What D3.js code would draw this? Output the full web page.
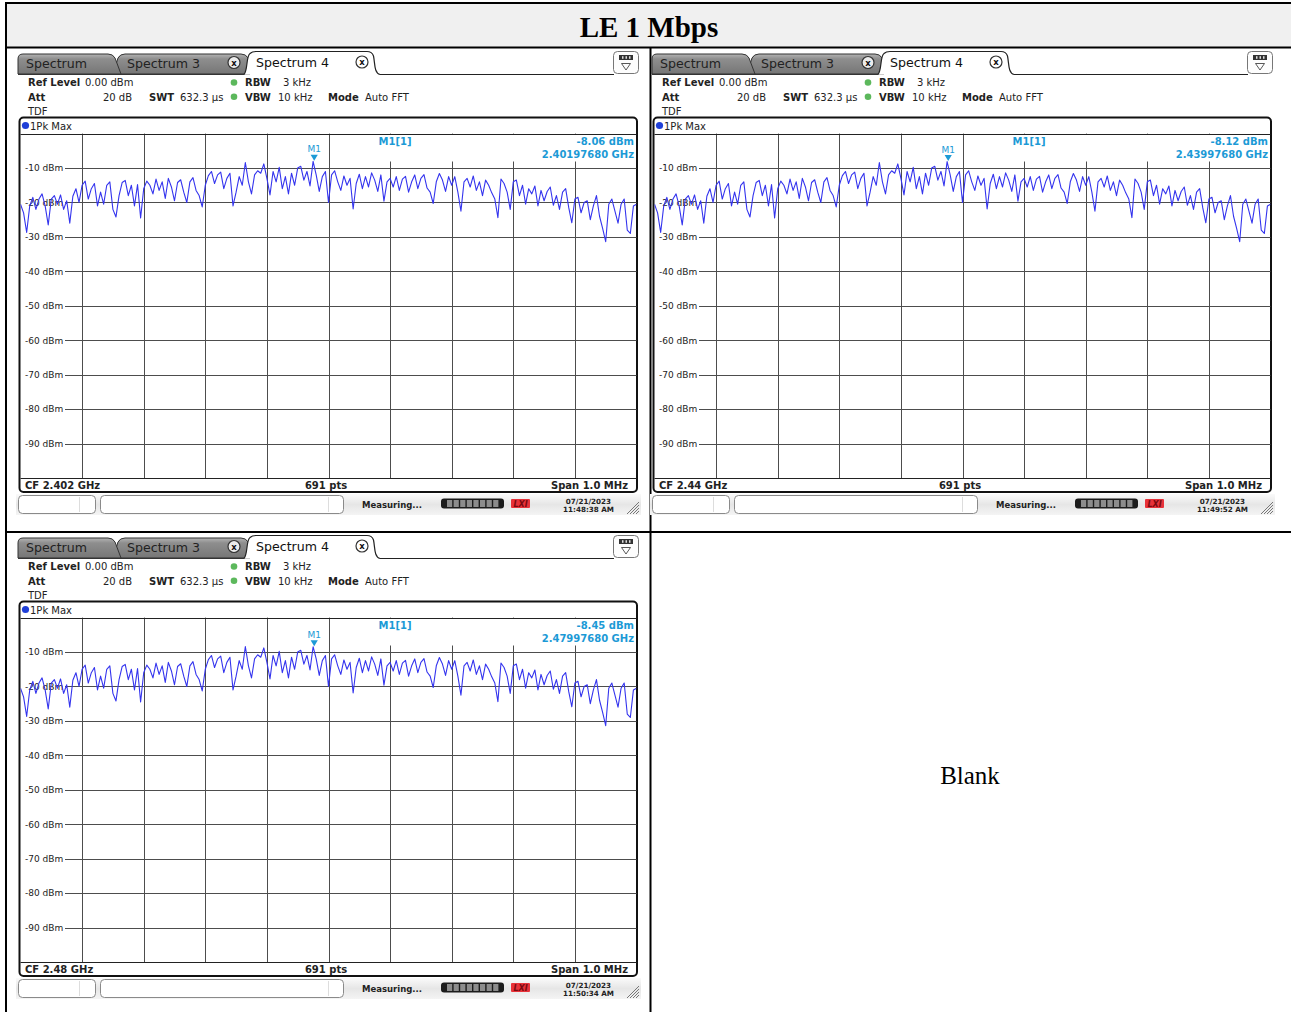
<!DOCTYPE html>
<html>
<head>
<meta charset="utf-8">
<script src="https://cdn.jsdelivr.net/npm/d3@7"></script>
<style>
  html, body { margin: 0; padding: 0; background: #fff; }
  svg { display: block; }
</style>
</head>
<body>
<svg id="chart" width="1291" height="1012"></svg>
<script>
// Per-screen measurement settings
const centerFreqGHz = [2.402, 2.44, 2.48];
const centerLabels = ["CF 2.402 GHz", "CF 2.44 GHz", "CF 2.48 GHz"];
const markerFreqGHz = [2.4019768, 2.4399768, 2.4799768];
const markerLevelDbm = [-8.06, -8.12, -8.45];
const markerFreqLabels = ["2.40197680 GHz", "2.43997680 GHz", "2.47997680 GHz"];
const stampDates = ["07/21/2023", "07/21/2023", "07/21/2023"];
const stampTimes = ["11:48:38 AM", "11:49:52 AM", "11:50:34 AM"];
const levelTicksDbm = [-10, -20, -30, -40, -50, -60, -70, -80, -90];
const tabNames = ["Spectrum", "Spectrum 3", "Spectrum 4"];
const refLevelDbm = 0;
const rangeDb = 100;
const spanMHz = 1.0;
const divisions = 10;

// 1Pk Max trace, evenly spaced across the span (dBm); highest sample is the M1 peak
const traceDbm = [
  -20.5, -23, -28.7, -21, -18.5, -22, -19, -17.5, -21, -26.5, -19, -18, -20.5, -17.8, -22, -19.5, -26, -18.2, -16, -20,
  -15, -13.8, -19, -16, -14.5, -21, -17, -20.5, -15, -14, -22, -24.2, -18, -14.2, -13.6, -18, -15, -21, -14.8, -24.5,
  -16, -13.8, -15, -17.5, -13.2, -16.5, -14, -18.8, -13, -15.5, -19.5, -14.2, -13.4, -17, -20, -14, -12.8, -16.5, -18, -21.3,
  -15, -12.2, -11, -14.5, -12, -11.2, -16, -13, -11.5, -21, -17, -12.5, -15, -8.4, -14, -17.5, -12, -10.8, -11.5, -8.8,
  -13, -17.8, -11, -14, -9.8, -16, -12.5, -17.5, -11.5, -15, -10, -9.5, -13.5, -11, -15.2, -8.06, -12, -16.8, -12.5, -11,
  -20, -12, -10.8, -14, -16.5, -12.3, -15, -13, -21.9, -14.5, -11.8, -16, -12.5, -15.5, -11.4, -13.5, -16.8, -12, -19.6, -14,
  -13, -15.5, -12.5, -16.5, -13.2, -12.4, -17, -14, -12, -16, -13, -11.9, -15.8, -17, -20.3, -14, -11.6, -13.5, -16.8, -12.5,
  -15, -12.5, -17, -22.5, -14, -13, -15.5, -12.3, -16.5, -14, -18, -13.5, -15, -17.2, -19, -24.4, -13.2, -14.5, -17, -22,
  -14, -13.5, -18, -15, -20.5, -16, -17.5, -15.2, -21, -16.5, -19.5, -16.8, -15.5, -20.8, -18, -22, -17, -16, -21.5, -25.9,
  -19, -18.5, -23, -20, -19.5, -25, -21, -18, -24, -27.5, -31.4, -20.5, -19, -22.5, -26, -20.5, -19, -28, -29, -21,
  -20.5
];

const UI_FONT = "'DejaVu Sans', Verdana, sans-serif";
const SERIF = "'Liberation Serif', 'Times New Roman', serif";
const TEXT = "#222";
const MARKER = "#1c9ad6";
const TRACE = "#3434ee";
const GRID = "#4d4d4d";

const svg = d3.select("#chart");
const defs = svg.append("defs");

const tabGrad = defs.append("linearGradient").attr("id", "tabGrad").attr("x1", 0).attr("y1", 0).attr("x2", 0).attr("y2", 1);
tabGrad.append("stop").attr("offset", 0).attr("stop-color", "#b4b4b4");
tabGrad.append("stop").attr("offset", 0.25).attr("stop-color", "#8e8e8e");
tabGrad.append("stop").attr("offset", 1).attr("stop-color", "#767676");

const barGrad = defs.append("linearGradient").attr("id", "barGrad").attr("x1", 0).attr("y1", 0).attr("x2", 0).attr("y2", 1);
barGrad.append("stop").attr("offset", 0).attr("stop-color", "#fafafa");
barGrad.append("stop").attr("offset", 0.5).attr("stop-color", "#e6e6e6");
barGrad.append("stop").attr("offset", 1).attr("stop-color", "#f4f4f4");

// ---- surrounding table ----
svg.append("rect").attr("x", 6).attr("y", 3).attr("width", 1291).attr("height", 44).attr("fill", "#f0f0f0");
svg.append("text")
  .attr("x", 649).attr("y", 37)
  .attr("text-anchor", "middle")
  .attr("font-family", SERIF).attr("font-weight", "bold").attr("font-size", 29)
  .attr("fill", "#000")
  .text("LE 1 Mbps");

const tableLines = [
  [5, 3, 1291, 3],
  [6, 3, 6, 1012],
  [5, 47.5, 1291, 47.5],
  [5, 532, 1291, 532],
  [650.5, 47, 650.5, 1012]
];
svg.append("g").selectAll("line").data(tableLines).join("line")
  .attr("x1", d => d[0]).attr("y1", d => d[1]).attr("x2", d => d[2]).attr("y2", d => d[3])
  .attr("stroke", "#000").attr("stroke-width", 2);

svg.append("text")
  .attr("x", 970).attr("y", 784)
  .attr("text-anchor", "middle")
  .attr("font-family", SERIF).attr("font-size", 25)
  .attr("fill", "#000")
  .text("Blank");

// ---- analyzer screens ----
const offsets = [[0, 0], [634, 0], [0, 484]];

function txt(g, x, y, s, opts = {}) {
  return g.append("text")
    .attr("x", x).attr("y", y)
    .attr("font-family", opts.family || UI_FONT)
    .attr("font-size", opts.size || 10)
    .attr("font-weight", opts.bold ? "bold" : "normal")
    .attr("font-style", opts.italic ? "italic" : "normal")
    .attr("text-anchor", opts.anchor || "start")
    .attr("fill", opts.fill || TEXT)
    .text(s);
}

function closeIcon(g, cx, cy, fill) {
  g.append("circle").attr("cx", cx).attr("cy", cy).attr("r", 6)
    .attr("fill", fill).attr("stroke", "#333").attr("stroke-width", 1.2);
  txt(g, cx, cy + 3, "x", { size: 8.5, bold: true, anchor: "middle", fill: "#111" });
}

function drawScreen(i) {
  const [dx, dy] = offsets[i];
  const g = svg.append("g").attr("transform", `translate(${dx},${dy})`);
  const cf = centerFreqGHz[i];
  const half = spanMHz / 2 / 1000;
  const divGHz = (spanMHz / 1000) / divisions;

  // tabs
  g.append("path")
    .attr("d", "M113,74 L118,58 Q120,54 125,54 L241,54 Q246,54 248,58 L250,74 Z")
    .attr("fill", "url(#tabGrad)").attr("stroke", "#333").attr("stroke-width", 1);
  g.append("path")
    .attr("d", "M18,74 L18,59 Q18,54 23,54 L108,54 Q113,54 115,58 L121,74 Z")
    .attr("fill", "url(#tabGrad)").attr("stroke", "#333").attr("stroke-width", 1);
  g.append("path")
    .attr("d", "M244,74.5 C248,70 246,56 250,53.5 Q252,51.5 256,51.5 L367,51.5 Q372,51.5 373.5,56 C375,63 374,73 380,74.5")
    .attr("fill", "#fff").attr("stroke", "#222").attr("stroke-width", 1.2);
  g.append("line").attr("x1", 18).attr("x2", 244).attr("y1", 74.5).attr("y2", 74.5).attr("stroke", "#333");
  g.append("line").attr("x1", 380).attr("x2", 614).attr("y1", 74.5).attr("y2", 74.5).attr("stroke", "#222").attr("stroke-width", 1.2);

  txt(g, 26, 67.5, tabNames[0], { size: 12.6 });
  txt(g, 127, 67.5, tabNames[1], { size: 12.6 });
  txt(g, 256, 67, tabNames[2], { size: 12.6, fill: "#111" });
  closeIcon(g, 234, 62.5, "#ececec");
  closeIcon(g, 362, 62, "#fff");

  // display-config button
  g.append("rect").attr("x", 613.5).attr("y", 51.5).attr("width", 25).attr("height", 22).attr("rx", 4)
    .attr("fill", "#fdfdfd").attr("stroke", "#777");
  g.append("rect").attr("x", 619).attr("y", 55).attr("width", 14).attr("height", 5).attr("fill", "#333");
  g.selectAll(".notch").data([622, 625.5, 629]).join("rect").attr("class", "notch")
    .attr("x", d => d).attr("y", 56.2).attr("width", 1.5).attr("height", 2.6).attr("fill", "#ddd");
  g.append("path").attr("d", "M621.5,63.5 L630.5,63.5 L626,70 Z").attr("fill", "none").attr("stroke", "#444").attr("stroke-width", 0.9);

  // settings block
  txt(g, 28, 86, "Ref Level", { bold: true });
  txt(g, 85, 86, "0.00 dBm");
  txt(g, 28, 100.5, "Att", { bold: true });
  txt(g, 132, 100.5, "20 dB", { anchor: "end" });
  txt(g, 149, 100.5, "SWT", { bold: true });
  txt(g, 180, 100.5, "632.3 µs");
  txt(g, 28, 114.5, "TDF");
  g.selectAll(".led").data([82.5, 96.8]).join("circle").attr("class", "led")
    .attr("cx", 234).attr("cy", d => d).attr("r", 3.3).attr("fill", "#5cb85c");
  txt(g, 245, 86, "RBW", { bold: true });
  txt(g, 283, 86, "3 kHz");
  txt(g, 245, 100.5, "VBW", { bold: true });
  txt(g, 278, 100.5, "10 kHz");
  txt(g, 328, 100.5, "Mode", { bold: true });
  txt(g, 365, 100.5, "Auto FFT");

  // scales
  const x = d3.scaleLinear().domain([cf - half, cf + half]).range([20.5, 636.5]);
  const y = d3.scaleLinear().domain([refLevelDbm, refLevelDbm - rangeDb]).range([133.6, 478]);

  // diagram frame
  g.append("rect").attr("x", 19.5).attr("y", 117.5).attr("width", 617.5).attr("height", 374.5).attr("rx", 4)
    .attr("fill", "#fff").attr("stroke", "#111").attr("stroke-width", 2);
  g.append("circle").attr("cx", 25.5).attr("cy", 125.5).attr("r", 3.6).attr("fill", "#1f3fd8");
  txt(g, 30, 129.5, "1Pk Max");

  // grid
  const vTicks = d3.range(1, divisions).map(k => cf - half + k * divGHz);
  g.append("g").selectAll("line").data(vTicks).join("line")
    .attr("x1", d => Math.round(x(d)) + 0.5).attr("x2", d => Math.round(x(d)) + 0.5)
    .attr("y1", y(refLevelDbm)).attr("y2", y(refLevelDbm - rangeDb))
    .attr("stroke", GRID).attr("stroke-width", 1);
  g.append("g").selectAll("line").data(levelTicksDbm).join("line")
    .attr("x1", 65).attr("x2", 636.5)
    .attr("y1", d => Math.round(y(d)) + 0.5).attr("y2", d => Math.round(y(d)) + 0.5)
    .attr("stroke", GRID).attr("stroke-width", 1);
  g.append("g").selectAll("text").data(levelTicksDbm).join("text")
    .attr("x", 25).attr("y", d => y(d) + 3.3)
    .attr("font-family", UI_FONT).attr("font-size", 9).attr("fill", TEXT)
    .text(d => `${d} dBm`);

  // marker readout field (right half of the diagram top) hides the grid beneath it
  const fieldLeft = x(cf) + 1.5;
  g.append("rect").attr("x", fieldLeft).attr("y", 134.5)
    .attr("width", 636 - fieldLeft).attr("height", 27)
    .attr("fill", "#fff");

  g.append("g").selectAll("line").data([refLevelDbm, refLevelDbm - rangeDb]).join("line")
    .attr("x1", 20.5).attr("x2", 636.5)
    .attr("y1", d => Math.round(y(d)) + 0.5).attr("y2", d => Math.round(y(d)) + 0.5)
    .attr("stroke", "#222").attr("stroke-width", 1);

  // trace
  const peakIndex = d3.maxIndex(traceDbm);
  const step = (spanMHz / 1000) / (traceDbm.length - 1);
  const pts = traceDbm.map((v, j) => [cf - half + j * step, j === peakIndex ? markerLevelDbm[i] : v]);
  const clipId = `plotClip${i}`;
  g.append("clipPath").attr("id", clipId)
    .append("rect").attr("x", 20.5).attr("y", 133.6).attr("width", 616).attr("height", 344.4);
  g.append("path")
    .datum(pts)
    .attr("clip-path", `url(#${clipId})`)
    .attr("d", d3.line().x(d => x(d[0])).y(d => y(d[1])))
    .attr("fill", "none").attr("stroke", TRACE).attr("stroke-width", 1.1).attr("stroke-linejoin", "round");

  // marker M1
  const mx = x(markerFreqGHz[i]);
  const my = y(markerLevelDbm[i]);
  g.append("path")
    .attr("d", `M${mx - 3.6},${my - 6.5} L${mx + 3.6},${my - 6.5} L${mx},${my - 0.5} Z`)
    .attr("fill", MARKER);
  txt(g, mx, my - 9, "M1", { size: 9, anchor: "middle", fill: MARKER });
  txt(g, 395, 144.5, "M1[1]", { bold: true, anchor: "middle", fill: MARKER });
  txt(g, 634, 144.5, `${markerLevelDbm[i].toFixed(2)} dBm`, { bold: true, anchor: "end", fill: MARKER });
  txt(g, 634, 158, markerFreqLabels[i], { bold: true, anchor: "end", fill: MARKER });

  // footer
  txt(g, 25, 489, centerLabels[i], { bold: true });
  txt(g, 326, 489, "691 pts", { bold: true, anchor: "middle" });
  txt(g, 628, 489, `Span ${spanMHz.toFixed(1)} MHz`, { bold: true, anchor: "end" });

  // status bar
  g.append("rect").attr("x", 16).attr("y", 494).attr("width", 625).attr("height", 21).attr("fill", "url(#barGrad)");
  g.append("rect").attr("x", 18.5).attr("y", 495.5).attr("width", 77).attr("height", 18).attr("rx", 4)
    .attr("fill", "#fff").attr("stroke", "#8a8a8a");
  g.append("rect").attr("x", 100.5).attr("y", 495.5).attr("width", 243).attr("height", 18).attr("rx", 4)
    .attr("fill", "#fff").attr("stroke", "#8a8a8a");
  g.append("line").attr("x1", 79.5).attr("x2", 79.5).attr("y1", 497).attr("y2", 512).attr("stroke", "#ddd");
  g.append("line").attr("x1", 328.5).attr("x2", 328.5).attr("y1", 497).attr("y2", 512).attr("stroke", "#ddd");
  txt(g, 362, 507.5, "Measuring...", { size: 8.5, bold: true });
  g.append("rect").attr("x", 441).attr("y", 498.5).attr("width", 63).attr("height", 10).attr("rx", 3).attr("fill", "#1c1c1c");
  g.selectAll(".seg").data(d3.range(8)).join("rect").attr("class", "seg")
    .attr("x", k => 447 + k * 6.6).attr("y", 500).attr("width", 5.2).attr("height", 7).attr("fill", "#8c8c8c");
  g.append("rect").attr("x", 511).attr("y", 499).attr("width", 19).attr("height", 9).attr("fill", "#e8323a").attr("rx", 1);
  txt(g, 520.5, 507, "LXI", { size: 8, bold: true, italic: true, anchor: "middle", fill: "#7a0a10" });
  txt(g, 588.5, 503.5, stampDates[i], { size: 7.2, bold: true, anchor: "middle" });
  txt(g, 588.5, 511.5, stampTimes[i], { size: 7.2, bold: true, anchor: "middle" });
  g.selectAll(".grip").data([0, 3, 6, 9]).join("line").attr("class", "grip")
    .attr("x1", k => 627 + k).attr("y1", 514).attr("x2", 639).attr("y2", k => 502 + k)
    .attr("stroke", "#777").attr("stroke-width", 1);
}

[0, 1, 2].forEach(drawScreen);
</script>
</body>
</html>
